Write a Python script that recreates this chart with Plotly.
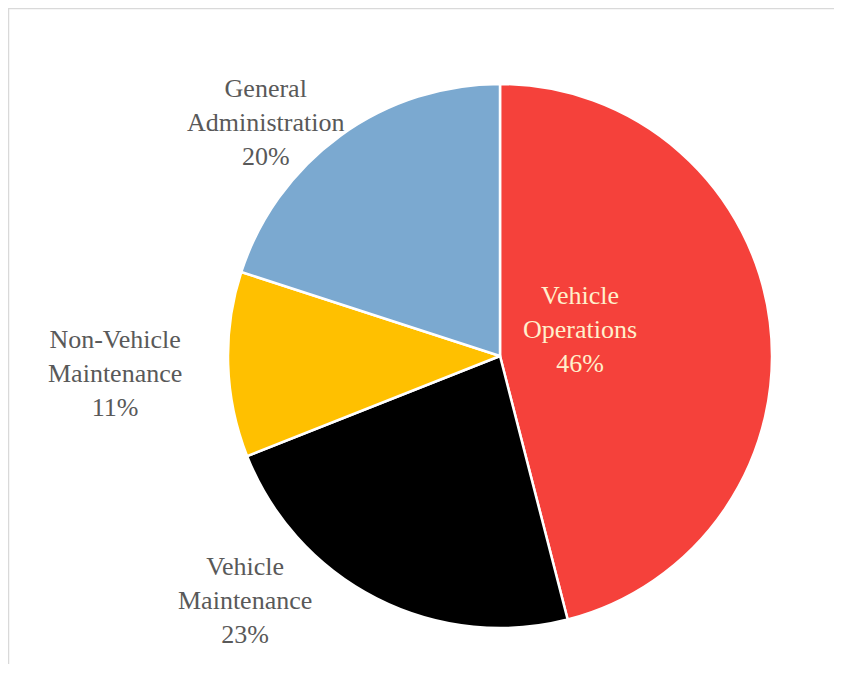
import plotly.graph_objects as go

labels = ["Vehicle Operations", "Vehicle Maintenance", "Non-Vehicle Maintenance", "General Administration"]
label_lines = ["Vehicle<br>Operations", "Vehicle<br>Maintenance", "Non-Vehicle<br>Maintenance", "General<br>Administration"]
values = [46, 23, 11, 20]
colors = ["#F5413B", "#000000", "#FFC000", "#7BA9D0"]
text_colors = ["#FFF0CC", "#595959", "#595959", "#595959"]
# label centers in screenshot pixels (layout styling, not data)
label_px = [(580, 329), (245, 600), (115, 373), (265, 123)]

OFF = 8  # page body margin
W, H = 842 - 2 * OFF, 698 - 2 * OFF
cx, cy, r = 500 - OFF, 356 - OFF, 272


def px(x):
    return (x - OFF) / W


def py(y):
    return 1 - (y - OFF) / H


fig = go.Figure(go.Pie(
    labels=labels,
    values=values,
    sort=False,
    direction="clockwise",
    rotation=0,
    marker=dict(colors=colors, line=dict(color="white", width=2.5)),
    textinfo="none",
    showlegend=False,
    hoverinfo="label+percent",
    domain=dict(x=[(cx - r) / W, (cx + r) / W], y=[1 - (cy + r) / H, 1 - (cy - r) / H]),
    automargin=False,
))

total = sum(values)
annotations = []
for lab, v, col, (lx, ly) in zip(label_lines, values, text_colors, label_px):
    annotations.append(dict(
        x=px(lx), y=py(ly), xref="paper", yref="paper",
        text=f"{lab}<br>{round(100 * v / total)}%",
        showarrow=False, align="center", xanchor="center", yanchor="middle",
        font=dict(family="Liberation Serif", size=26, color=col),
    ))

fig.update_layout(
    width=W, height=H,
    margin=dict(l=0, r=0, t=0, b=0),
    paper_bgcolor="white",
    plot_bgcolor="white",
    annotations=annotations,
    shapes=[
        dict(type="line", xref="paper", yref="paper", x0=0, x1=1, y0=1 - 0.5 / H, y1=1 - 0.5 / H,
             line=dict(color="#D9D9D9", width=1.5)),
        dict(type="line", xref="paper", yref="paper", x0=0.5 / W, x1=0.5 / W, y0=1, y1=py(664),
             line=dict(color="#D9D9D9", width=1.5)),
    ],
)

fig.write_html("out.html")
